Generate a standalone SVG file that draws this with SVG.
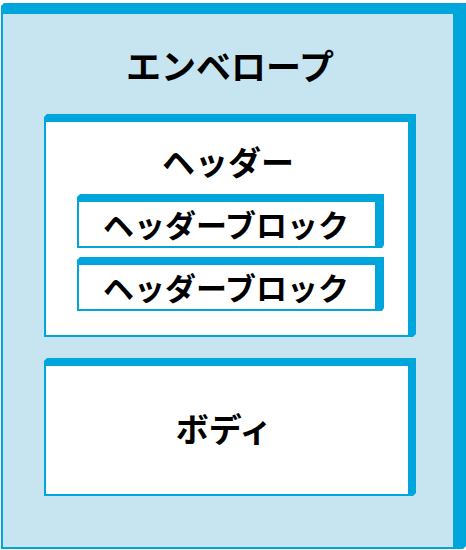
<svg xmlns="http://www.w3.org/2000/svg" width="466" height="550" viewBox="0 0 466 550">
<style>
.band{fill:#00a6db}
.env{fill:#c6e5f1;stroke:#00a6db;stroke-width:2}
.box{fill:#ffffff;stroke:#00a6db;stroke-width:2}
text{font-family:"Noto Sans CJK JP","Noto Sans CJK SC",sans-serif;font-weight:bold;fill:#000;text-anchor:middle}
.t1{font-size:35px}
.t2{font-size:33px}
.t3{font-size:31px}
</style>
<g id="envelope">
<polygon class="band" points="1,6 4,3 466,3 466,546 463,549 1,549"/>
<rect class="env" x="2" y="13" width="452" height="535"/>
<text class="t1" x="230" y="80">エンベロープ</text>
</g>
<g id="header">
<polygon class="band" points="44,117 47,114 416,114 416,334 413,337 44,337"/>
<rect class="box" x="45" y="121" width="364" height="215"/>
<text class="t2" x="228" y="175">ヘッダー</text>
</g>
<g id="header-block-1">
<polygon class="band" points="77,197 80,194 384,194 384,245 382,248 77,248"/>
<rect class="box" x="78" y="201" width="298" height="46"/>
<text class="t3" x="226" y="237">ヘッダーブロック</text>
</g>
<g id="header-block-2">
<polygon class="band" points="77,260 80,257 384,257 384,308 382,311 77,311"/>
<rect class="box" x="78" y="264" width="298" height="46"/>
<text class="t3" x="226" y="300">ヘッダーブロック</text>
</g>
<g id="body">
<polygon class="band" points="44,361 47,358 416,358 416,493 413,496 44,496"/>
<rect class="box" x="45" y="365" width="364" height="130"/>
<text class="t2" x="224" y="442">ボディ</text>
</g>
<g id="connectors"/>
</svg>
